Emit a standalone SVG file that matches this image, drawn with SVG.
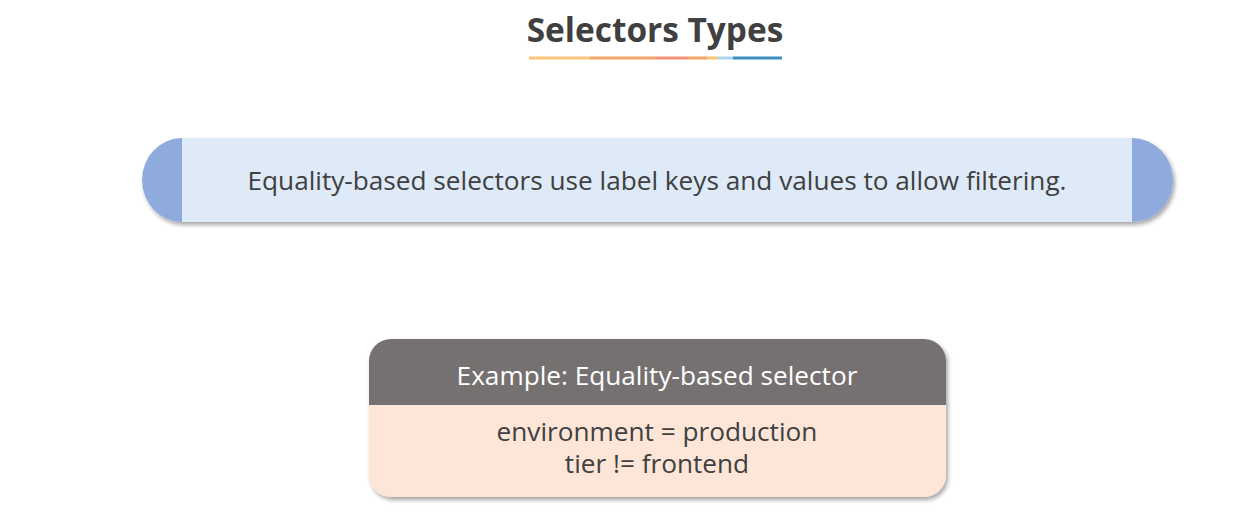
<svg xmlns="http://www.w3.org/2000/svg" width="1243" height="524" viewBox="0 0 1243 524">
<defs>
<filter id="sh" x="-5%" y="-20%" width="110%" height="140%">
<feDropShadow dx="2" dy="3" stdDeviation="2" flood-color="#000" flood-opacity="0.35"/>
</filter>
<clipPath id="boxclip"><rect x="369" y="339" width="577" height="158" rx="22" ry="22"/></clipPath>
</defs>
<style>
text{font-family:"Open Sans","Noto Sans","Liberation Sans",sans-serif;text-anchor:middle}
.title{font-size:33.4px;font-weight:bold;fill:#404040}
.main{font-size:26.2px;fill:#404040}
.head{font-size:26.2px;fill:#ffffff}
.cap{fill:#8FAADC}
</style>
<rect width="1243" height="524" fill="#ffffff"/>
<g id="title">
<text class="title" x="655" y="42">Selectors Types</text>
<rect x="529" y="56.5" width="61" height="3" fill="#FBC477"/>
<rect x="590" y="56.5" width="65" height="3" fill="#F5A46A"/>
<rect x="655" y="56.5" width="33" height="3" fill="#F19379"/>
<rect x="688" y="56.5" width="19" height="3" fill="#F5A46A"/>
<rect x="707" y="56.5" width="11" height="3" fill="#FBC477"/>
<rect x="718" y="56.5" width="15" height="3" fill="#A9D6EE"/>
<rect x="733" y="56.5" width="49" height="3" fill="#3D8EC3"/>
</g>
<g id="definition">
<g filter="url(#sh)">
<path class="cap" d="M182,138 L182,222 A40,42 0 0 1 182,138 Z"/>
<rect x="182" y="138" width="950" height="84" fill="#DEEAF7"/>
<path class="cap" d="M1132,138 A41,42 0 0 1 1132,222 Z"/>
</g>
<text class="main" x="657" y="190">Equality-based selectors use label keys and values to allow filtering.</text>
</g>
<g id="example">
<g filter="url(#sh)">
<g clip-path="url(#boxclip)">
<rect x="369" y="339" width="577" height="158" fill="#FDE5D7"/>
<rect x="369" y="339" width="577" height="66" fill="#767171"/>
</g>
</g>
<text class="head" x="657" y="385">Example: Equality-based selector</text>
<text class="main" x="657" y="441"><tspan x="657" y="441">environment = production</tspan><tspan x="657" y="473">tier != frontend</tspan></text>
</g>
</svg>
